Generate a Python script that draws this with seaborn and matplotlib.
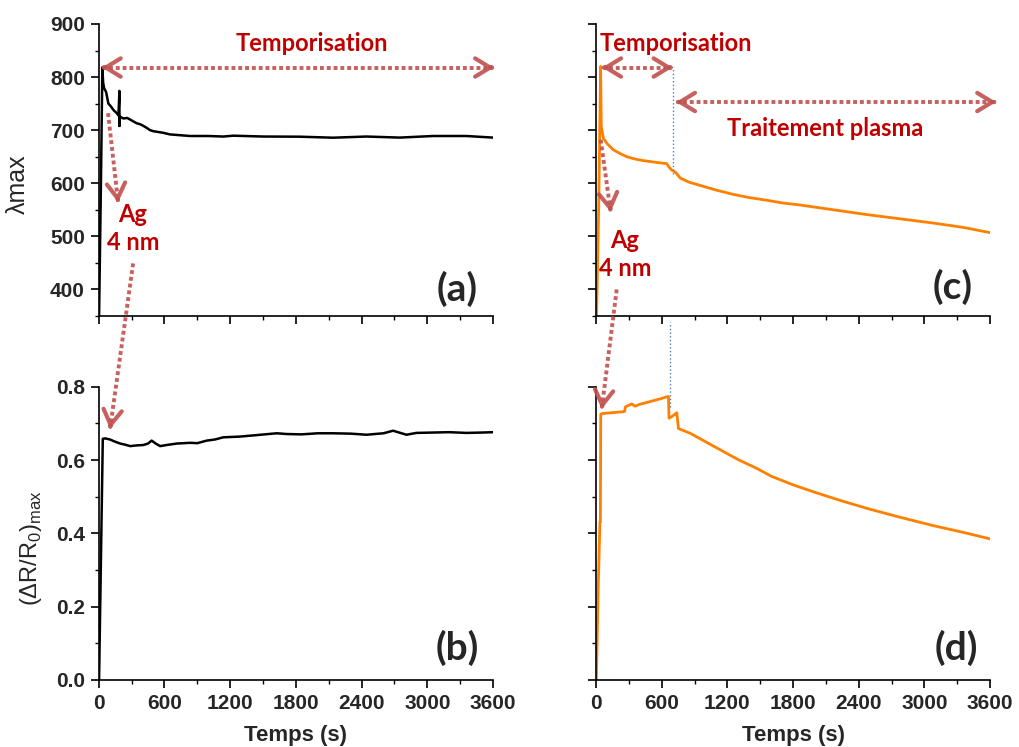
import numpy as np
import pandas as pd
import matplotlib
matplotlib.use("Agg")
import matplotlib.pyplot as plt
from matplotlib.ticker import MultipleLocator
import seaborn as sns

# data
t_a = [3, 20, 33, 40, 49, 67, 88, 110, 134, 160, 180, 189, 189, 189, 225, 260, 286, 320, 347, 380, 408, 440, 469, 500, 530,
       590, 650, 712, 834, 1000, 1138, 1228, 1500, 1835, 2141, 2445, 2749, 3054, 3357, 3600]
lam_a = [350, 600, 818, 790, 779, 772, 750, 745, 738, 733, 728, 774, 708, 726, 722, 723, 720, 716, 713, 711, 708, 704, 700, 698, 697,
         695, 692, 691, 689, 689, 688, 689.6, 688, 687.7, 685.8, 688, 686, 689, 689, 686]

t_b = [3, 37, 60, 103, 150, 195, 240, 287, 350, 407, 450, 483, 520, 560, 620, 712, 834, 900, 986, 1060, 1138, 1290, 1442,
       1625, 1716, 1850, 2000, 2140, 2300, 2445, 2600, 2688, 2810, 2900, 3053, 3200, 3357, 3500, 3600]
r_b = [0, 0.658, 0.659, 0.656, 0.650, 0.645, 0.642, 0.638, 0.640, 0.641, 0.645, 0.653, 0.645, 0.638, 0.641, 0.645, 0.647,
       0.646, 0.653, 0.656, 0.662, 0.664, 0.668, 0.673, 0.671, 0.670, 0.673, 0.673, 0.672, 0.669, 0.673, 0.680, 0.669,
       0.674, 0.675, 0.676, 0.674, 0.675, 0.676]

t_c = [5, 25, 42, 48, 67, 100, 158, 220, 280, 350, 420, 493, 560, 646, 661, 690, 707, 730, 768, 850, 950, 1100, 1255,
       1400, 1560, 1700, 1864, 2169, 2473, 2778, 3082, 3350, 3600]
lam_c = [350, 560, 820, 707, 685, 675, 663, 656, 650, 646, 643, 641, 639, 637, 632, 625, 623, 620, 610, 602, 596, 587, 579,
         573, 568, 563, 559, 550, 541, 533, 525, 517, 507]

t_d = [3, 20, 36, 40, 43, 60, 100, 180, 250, 262, 268, 326, 357, 400, 500, 600, 652, 662, 667, 700, 738, 753, 860, 1000,
       1165, 1300, 1470, 1600, 1803, 2000, 2229, 2500, 2777, 3082, 3350, 3600]
r_d = [0, 0.25, 0.432, 0.432, 0.725, 0.727, 0.728, 0.730, 0.732, 0.733, 0.745, 0.753, 0.747, 0.752, 0.760, 0.768, 0.773,
       0.773, 0.714, 0.720, 0.729, 0.686, 0.673, 0.650, 0.623, 0.601, 0.577, 0.556, 0.532, 0.512, 0.490, 0.466, 0.444,
       0.421, 0.403, 0.385]

x_ticks = [0, 600, 1200, 1800, 2400, 3000, 3600]

sns.set_theme(style="ticks")
plt.rcParams['font.family'] = ['Liberation Sans', 'DejaVu Sans']

RED_TXT = '#C00000'
ARROW_C = '#C0504D'
BLUE = '#4F81BD'
ORANGE = '#FF8000'

fig = plt.figure(figsize=(10.19, 7.47), dpi=100)
ax_a = fig.add_axes([0.0969, 0.5770, 0.3869, 0.3909])
ax_b = fig.add_axes([0.0969, 0.0897, 0.3869, 0.3926])
ax_c = fig.add_axes([0.5849, 0.5770, 0.3867, 0.3909])
ax_d = fig.add_axes([0.5849, 0.0897, 0.3867, 0.3926])

sns.lineplot(data=pd.DataFrame({'t': t_a, 'v': lam_a}), x='t', y='v', ax=ax_a, color='black', lw=1.8,
             sort=False, estimator=None)
sns.lineplot(data=pd.DataFrame({'t': t_b, 'v': r_b}), x='t', y='v', ax=ax_b, color='black', lw=1.8,
             sort=False, estimator=None)
sns.lineplot(data=pd.DataFrame({'t': t_c, 'v': lam_c}), x='t', y='v', ax=ax_c, color=ORANGE, lw=2,
             sort=False, estimator=None)
sns.lineplot(data=pd.DataFrame({'t': t_d, 'v': r_d}), x='t', y='v', ax=ax_d, color=ORANGE, lw=2,
             sort=False, estimator=None)

for ax in [ax_a, ax_b, ax_c, ax_d]:
    sns.despine(ax=ax)
    ax.set_xlim(0, 3600)
    ax.set_xticks(x_ticks)
    ax.xaxis.set_minor_locator(MultipleLocator(300))
    ax.set_xlabel('')
    ax.set_ylabel('')
    for s in ['left', 'bottom']:
        ax.spines[s].set_color('black')
        ax.spines[s].set_linewidth(1.2)
    ax.tick_params(which='major', direction='out', length=6, width=1.2, color='black', labelsize=15,
                   left=True, bottom=True, pad=4)
    ax.tick_params(which='minor', direction='out', length=3, width=1.0, color='black', left=True, bottom=True)

for ax in [ax_a, ax_c]:
    ax.set_ylim(350, 900)
    ax.yaxis.set_major_locator(MultipleLocator(100))
    ax.yaxis.set_minor_locator(MultipleLocator(50))
    ax.tick_params(labelbottom=False)
for ax in [ax_b, ax_d]:
    ax.set_ylim(0, 0.8)
    ax.set_yticks([0, 0.2, 0.4, 0.6, 0.8])
    ax.yaxis.set_minor_locator(MultipleLocator(0.1))
    ax.set_xlabel('Temps (s)', fontsize=16, fontweight='bold', labelpad=9)
for ax in [ax_c, ax_d]:
    ax.tick_params(labelleft=False)

ax_b.set_yticklabels(['0.0', '0.2', '0.4', '0.6', '0.8'])
for ax in [ax_a, ax_b, ax_c, ax_d]:
    for lab in ax.get_xticklabels() + ax.get_yticklabels():
        lab.set_fontweight('bold')

ax_a.set_ylabel('λmax', fontsize=18)
ax_a.yaxis.set_label_coords(-0.175, 0.45)
ax_b.set_ylabel(r'(ΔR/R$_{\mathregular{0}}$)$_{\mathregular{max}}$', fontsize=17)
ax_b.yaxis.set_label_coords(-0.14, 0.45)

# panel letters
for ax, letter, pos in [(ax_a, '(a)', (0.909, 0.092)), (ax_b, '(b)', (0.909, 0.109)),
                        (ax_c, '(c)', (0.906, 0.10)), (ax_d, '(d)', (0.915, 0.109))]:
    ax.text(pos[0], pos[1], letter, transform=ax.transAxes, ha='center', va='center',
            fontsize=28, fontweight='bold', family=['Lato', 'DejaVu Sans'])

txt_kw = dict(color=RED_TXT, fontsize=17, fontweight='bold', family=['Lato', 'DejaVu Sans'])
ax_a.text(1950, 864, 'Temporisation', ha='center', va='center', **txt_kw)
ax_a.text(313, 515, 'Ag\n4 nm', ha='center', va='center', linespacing=1.25, **txt_kw)
ax_c.text(37, 864, 'Temporisation', ha='left', va='center', **txt_kw)
ax_c.text(2092, 704, 'Traitement plasma', ha='center', va='center', **txt_kw)
ax_c.text(265, 466, 'Ag\n4 nm', ha='center', va='center', linespacing=1.25, **txt_kw)


def head(ax, xy, d):
    ax.annotate('', xy=xy, xycoords='data', xytext=(-d[0] * 2, -d[1] * 2), textcoords='offset points',
                arrowprops=dict(arrowstyle='->,head_length=0.9,head_width=0.55', color=ARROW_C, lw=3,
                                shrinkA=0, shrinkB=0, alpha=0.9),
                annotation_clip=False)


def dotted_arrow(ax, start, end, start_trans=None, both=False):
    # start may be given in another axes' data coords; bring it into this axes
    if start_trans is not None:
        start = ax.transData.inverted().transform(start_trans.transform(start))
    p0 = np.array(ax.transData.transform(start))
    p1 = np.array(ax.transData.transform(end))
    d = (p1 - p0) / np.hypot(*(p1 - p0))
    # pull the dotted line back a little from the arrow tips
    gap = 7
    q1 = ax.transData.inverted().transform(p1 - d * gap)
    q0 = ax.transData.inverted().transform(p0 + d * gap) if both else start
    ax.plot([q0[0], q1[0]], [q0[1], q1[1]], color=ARROW_C, lw=2.8, alpha=0.9,
            dashes=(1, 0.75), dash_capstyle='butt', clip_on=False)
    head(ax, end, d)
    if both:
        head(ax, start, -d)


dotted_arrow(ax_a, (27, 818), (3610, 818), both=True)
dotted_arrow(ax_a, (85, 732), (177, 564))
dotted_arrow(ax_b, (314, 449), (103, 0.685), start_trans=ax_a.transData)

dotted_arrow(ax_c, (55, 818), (700, 818), both=True)
dotted_arrow(ax_c, (731, 753), (3656, 753), both=True)
dotted_arrow(ax_c, (43, 682), (134, 546))
dotted_arrow(ax_d, (189, 400), (52, 0.739), start_trans=ax_c.transData)

ax_c.axvline(705, ymin=0.485, ymax=0.851, color=BLUE, lw=1, linestyle=':', clip_on=False)
ax_d.axvline(680, ymin=0.931, ymax=1.219, color=BLUE, lw=1, linestyle=':', clip_on=False)

fig.savefig('out.png', dpi=100)
